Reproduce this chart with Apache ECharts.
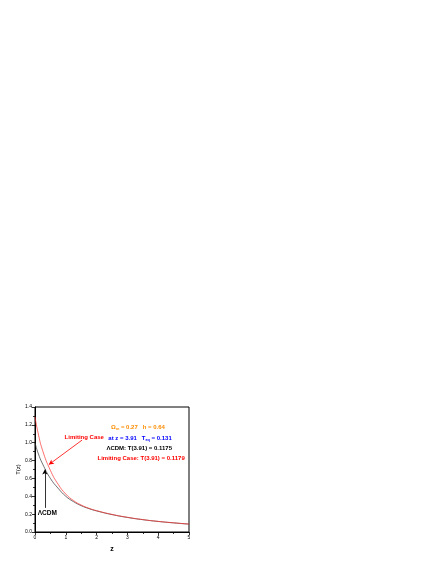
<!DOCTYPE html>
<html><head><meta charset="utf-8">
<script src="https://cdn.jsdelivr.net/npm/echarts@6/dist/echarts.min.js"></script>
<style>html,body{margin:0;padding:0;background:#fff}#c{width:436px;height:564px}</style>
</head><body><div id="c"></div>
<script>
var zValues = [0, 0.1, 0.25, 0.5, 0.75, 1, 1.25, 1.5, 1.75, 2, 2.5, 3, 3.5, 4, 4.5, 5];
var lcdmT = [1.00, 0.885, 0.76, 0.60, 0.49, 0.40, 0.34, 0.295, 0.262, 0.236, 0.195, 0.163, 0.138, 0.118, 0.102, 0.088];
var limitT = [1.29, 1.11, 0.91, 0.69, 0.535, 0.425, 0.352, 0.302, 0.266, 0.239, 0.197, 0.165, 0.139, 0.119, 0.103, 0.089];
var yTicks = ['0.0','0.2','0.4','0.6','0.8','1.0','1.2','1.4'];
var xTicks = ['0','1','2','3','4','5'];

var FONT = 'Liberation Sans';
function pairs(a){ return zValues.map(function(z,i){ return [z, a[i]]; }); }

var chart = echarts.init(document.getElementById('c'), null, {renderer:'canvas'});
var option = {
  animation:false,
  backgroundColor:'#fff',
  grid:{left:35, top:407, width:154, height:125, show:true, borderColor:'#000', borderWidth:1, backgroundColor:'transparent'},
  xAxis:{
    type:'value', min:0, max:5, interval:1,
    name:'z', nameLocation:'middle', nameGap:14,
    nameTextStyle:{fontFamily:FONT, fontWeight:'bold', fontSize:7, color:'#000'},
    axisLine:{lineStyle:{color:'#000', width:1}},
    axisTick:{show:true, inside:false, length:3, lineStyle:{color:'#000', width:0.8}},
    minorTick:{show:true, splitNumber:2, length:2, lineStyle:{color:'#000', width:0.8}},
    splitLine:{show:false},
    axisLabel:{fontFamily:FONT, fontSize:5, color:'#000', margin:3,
      formatter:function(v){ return xTicks[Math.round(v)]; }}
  },
  yAxis:{
    type:'value', min:0, max:1.4, interval:0.2,
    name:'T(z)', nameLocation:'middle', nameGap:13, nameRotate:90,
    nameTextStyle:{fontFamily:FONT, fontSize:6, color:'#000'},
    axisLine:{show:true, lineStyle:{color:'#000', width:1}},
    axisTick:{show:true, inside:false, length:3, lineStyle:{color:'#000', width:0.8}},
    minorTick:{show:true, splitNumber:2, length:2, lineStyle:{color:'#000', width:0.8}},
    splitLine:{show:false},
    axisLabel:{fontFamily:FONT, fontSize:5, color:'#000', margin:3,
      formatter:function(v){ return yTicks[Math.round(v/0.2)]; }}
  },
  series:[
    {type:'line', name:'LCDM', data:pairs(lcdmT), smooth:0.5, showSymbol:false,
     lineStyle:{color:'#333', width:0.7},
     markLine:{silent:true, symbol:['none','arrow'], symbolSize:[4,5], label:{show:false},
       lineStyle:{color:'#000', width:0.8, type:'solid'},
       data:[[{coord:[0.32,0.27]},{coord:[0.32,0.70]}]]}},
    {type:'line', name:'Limit', data:pairs(limitT), smooth:0.5, showSymbol:false,
     lineStyle:{color:'#ff3030', width:0.7},
     markLine:{silent:true, symbol:['none','arrow'], symbolSize:[4,5], label:{show:false},
       lineStyle:{color:'#ff0000', width:0.8, type:'solid'},
       data:[[{coord:[1.53,1.03]},{coord:[0.45,0.755]}]]}}
  ]
};
chart.setOption(option);

function P(z,v){ return chart.convertToPixel({gridIndex:0},[z,v]); }
var base = {fontFamily:FONT, fontWeight:'bold', fontSize:6};
function txt(z,v,align,style){
  var p = P(z,v);
  return {type:'text', x:p[0], y:p[1], style:Object.assign({}, base, {textAlign:align, textVerticalAlign:'middle'}, style), silent:true};
}
var g = [];
var p1 = P(2.47,1.175);
g.push({type:'text', x:p1[0], y:p1[1], silent:true, style:{
  text:'{a|Ω}{s|m}{a| = 0.27   h = 0.64}', textVerticalAlign:'middle',
  rich:{a:Object.assign({}, base, {fill:'#ff8c00'}), s:Object.assign({}, base, {fontSize:3.8, fill:'#ff8c00', padding:[3,0,0,0]})}}});
var p2 = P(2.38,1.05);
g.push({type:'text', x:p2[0], y:p2[1], silent:true, style:{
  text:'{a|at z = 3.91   T}{s|eq}{a| = 0.131}', textVerticalAlign:'middle',
  rich:{a:Object.assign({}, base, {fill:'#0000ff'}), s:Object.assign({}, base, {fontSize:3.8, fill:'#0000ff', padding:[3,0,0,0]})}}});
g.push(txt(2.32,0.94,'left',{text:'ΛCDM: T(3.91) = 0.1175', fill:'#000'}));
g.push(txt(2.03,0.82,'left',{text:'Limiting Case: T(3.91) = 0.1179', fill:'#ff0000'}));
g.push(txt(1.60,1.065,'center',{text:'Limiting Case', fill:'#ff0000'}));
g.push(txt(0.40,0.21,'center',{text:'ΛCDM', fill:'#000', fontSize:6.5}));
chart.setOption({graphic:g});
</script></body></html>
